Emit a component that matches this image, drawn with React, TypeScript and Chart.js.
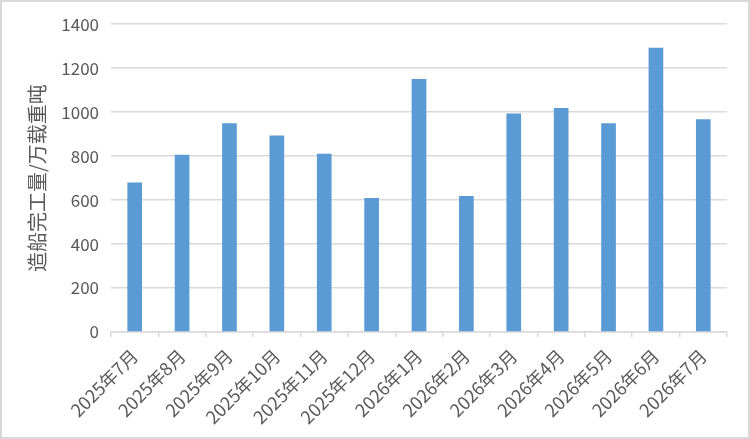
import { useEffect, useRef } from 'react'
import Chart from 'chart.js/auto'

const MONTHS = [
  '2025年7月', '2025年8月', '2025年9月', '2025年10月', '2025年11月', '2025年12月',
  '2026年1月', '2026年2月', '2026年3月', '2026年4月', '2026年5月', '2026年6月', '2026年7月',
]
const COMPLETIONS = [680, 806, 950, 894, 811, 610, 1151, 619, 994, 1019, 950, 1293, 968]
const Y_TITLE = '造船完工量/万载重吨'
const Y_MIN = 0
const Y_MAX = 1400
const Y_STEP = 200

const FONT = '"Noto Sans CJK SC", "Noto Sans", sans-serif'
const TEXT = '#595959'
const GRID = '#d9d9d9'

export default function App() {
  const chartRef = useRef<HTMLCanvasElement>(null)
  const chartInstance = useRef<Chart | null>(null)

  useEffect(() => {
    document.body.style.margin = '0'
    if (!chartRef.current) return
    if (chartInstance.current) chartInstance.current.destroy()

    chartInstance.current = new Chart(chartRef.current, {
      type: 'bar',
      data: {
        labels: MONTHS,
        datasets: [{
          label: Y_TITLE,
          data: COMPLETIONS,
          backgroundColor: '#5b9bd5',
          borderWidth: 0,
          barPercentage: 0.31,
          categoryPercentage: 1,
        }],
      },
      options: {
        responsive: false,
        animation: false,
        layout: { padding: { top: 21, right: 21, left: 0, bottom: 0 } },
        plugins: { legend: { display: false }, tooltip: { enabled: false } },
        scales: {
          x: {
            grid: { display: true, offset: true, drawOnChartArea: false, drawTicks: true, tickLength: 5, color: GRID, lineWidth: 1.5 },
            border: { display: true, color: GRID, width: 1.5 },
            ticks: {
              color: TEXT,
              font: { family: FONT, size: 18 },
              minRotation: 45,
              maxRotation: 45,
              autoSkip: false,
              padding: 8,
            },
            afterFit: (s: any) => { s.height = 105 },
          },
          y: {
            min: Y_MIN,
            max: Y_MAX,
            grid: { color: GRID, lineWidth: 1.5, drawTicks: false },
            border: { display: false },
            ticks: {
              stepSize: Y_STEP,
              color: TEXT,
              font: { family: FONT, size: 17 },
              padding: 12,
              callback: (v: any) => String(v),
            },
            title: {
              display: true,
              text: Y_TITLE,
              color: TEXT,
              font: { family: FONT, size: 20 },
              padding: { top: 23, bottom: 0 },
            },
            afterFit: (s: any) => { s.width = 109 },
          },
        },
      },
    })

    return () => { chartInstance.current?.destroy() }
  }, [])

  return (
    <div style={{ width: 750, height: 439, border: `2px solid ${GRID}`, boxSizing: 'border-box', background: '#fff' }}>
      <canvas ref={chartRef} width={746} height={435} style={{ display: 'block', width: 746, height: 435 }} />
    </div>
  )
}
